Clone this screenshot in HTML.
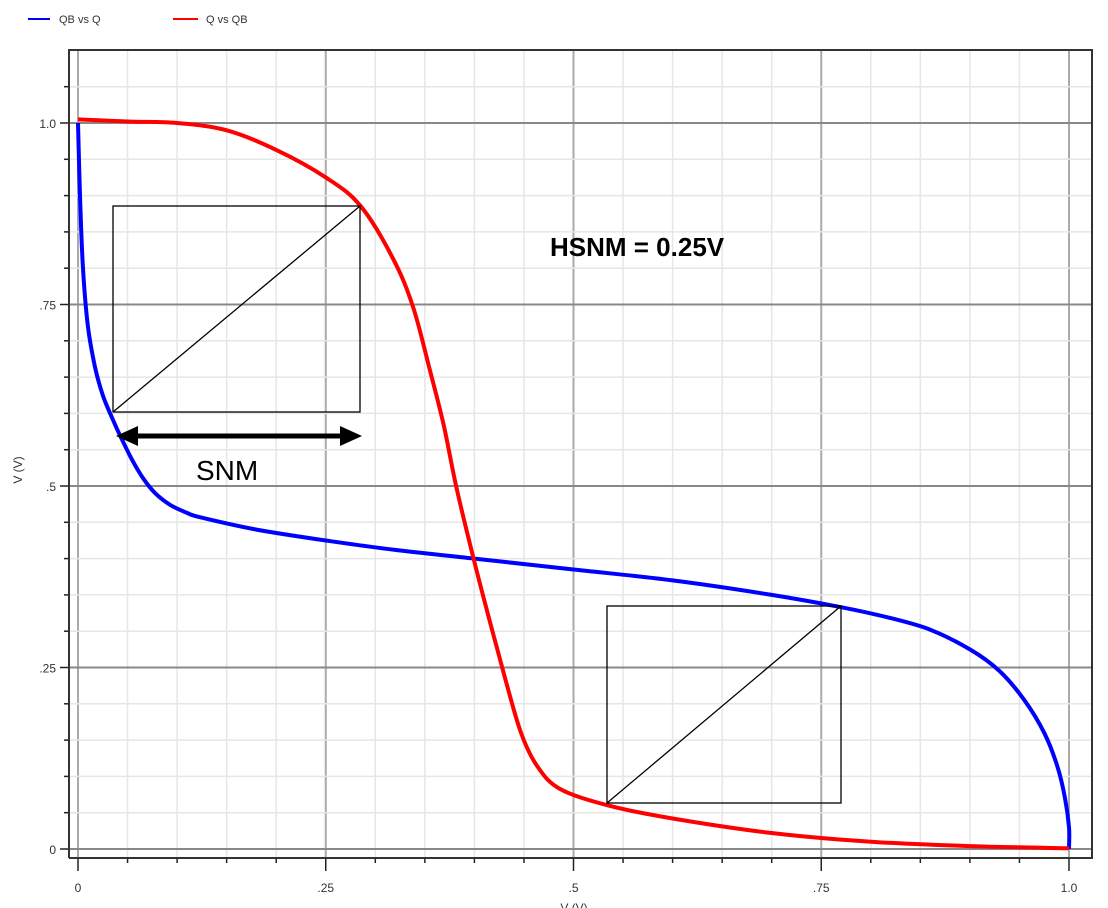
<!DOCTYPE html>
<html><head><meta charset="utf-8"><style>
body{margin:0;background:#fff;}
svg{display:block;font-family:"Liberation Sans",sans-serif;}
</style></head><body>
<svg id="chart" width="1108" height="908" xmlns="http://www.w3.org/2000/svg">
<g id="grid"></g>
<g id="axes"></g>
<g id="series"></g>
<g>
<line x1="28" y1="19" x2="50" y2="19" stroke="#0000ff" stroke-width="2"/>
<text x="59" y="23" font-size="11" fill="#333">QB vs Q</text>
<line x1="173" y1="19" x2="198" y2="19" stroke="#ff0000" stroke-width="2"/>
<text x="206" y="23" font-size="11" fill="#333">Q vs QB</text>
</g>
<text x="22" y="470" font-size="12" fill="#333" transform="rotate(-90 22 470)" text-anchor="middle">V (V)</text>
<text x="574" y="912" font-size="12" fill="#333" text-anchor="middle">V (V)</text>
<g>
<rect x="113" y="206" width="247" height="206" fill="none" stroke="#000" stroke-width="1.3"/>
<line x1="113" y1="412" x2="360" y2="206" stroke="#000" stroke-width="1.3"/>
<rect x="607" y="606" width="234" height="197" fill="none" stroke="#000" stroke-width="1.3"/>
<line x1="607" y1="803" x2="841" y2="606" stroke="#000" stroke-width="1.3"/>
<line x1="132" y1="436" x2="342" y2="436" stroke="#000" stroke-width="5"/>
<polygon points="116,436 138,426 138,446" fill="#000"/>
<polygon points="362,436 340,426 340,446" fill="#000"/>
<text x="196" y="480" font-size="28" fill="#000">SNM</text>
<text x="550" y="256" font-size="26" font-weight="bold" fill="#000">HSNM = 0.25V</text>
</g>
</svg>
<script>
const blueX=[0,0.002,0.005,0.01,0.017,0.025,0.034,0.044,0.055,0.066,0.078,0.093,0.11,0.123,0.18,0.25,0.32,0.4,0.5,0.6,0.7,0.77,0.82,0.86,0.9,0.93,0.955,0.975,0.988,0.996,1.0,1.0];
const blueY=[1.0,0.9,0.8,0.72,0.665,0.625,0.595,0.565,0.535,0.51,0.49,0.474,0.463,0.457,0.44,0.425,0.412,0.40,0.385,0.37,0.35,0.333,0.318,0.302,0.275,0.245,0.205,0.16,0.115,0.07,0.03,0];
const redX=[0,0.05,0.1,0.15,0.2,0.25,0.285,0.318,0.338,0.355,0.369,0.382,0.399,0.416,0.432,0.447,0.463,0.486,0.535,0.6,0.7,0.8,0.9,1.0];
const redY=[1.005,1.002,1.0,0.99,0.963,0.925,0.886,0.813,0.747,0.66,0.584,0.497,0.401,0.311,0.23,0.16,0.115,0.083,0.06,0.042,0.022,0.01,0.004,0.001];
const xTicks=[0,0.25,0.5,0.75,1.0];
const xTickLabels=["0",".25",".5",".75","1.0"];
const yTicks=[0,0.25,0.5,0.75,1.0];
const yTickLabels=["0",".25",".5",".75","1.0"];
const NS="http://www.w3.org/2000/svg";
const X0=78,X1=1069,Y0=849,Y1=123;
const sx=v=>X0+(X1-X0)*v, sy=v=>Y0-(Y0-Y1)*v;
function mk(t,a,p){const e=document.createElementNS(NS,t);for(const k in a)e.setAttribute(k,a[k]);p.appendChild(e);return e;}
const grid=document.getElementById('grid'),axes=document.getElementById('axes'),series=document.getElementById('series');
for(let i=0;i<=20;i++){const v=i*0.05;const major=i%5===0;
 const gx=sx(v);
 const l=mk('line',{x1:gx,y1:50,x2:gx,y2:858,stroke:major?'#aaa':'#e6e6e6','stroke-width':major?2:1.5},grid);
 
 const t=mk('line',{x1:gx,y1:858,x2:gx,y2:major?871:863,stroke:'#222','stroke-width':1.5},axes);
 
}
for(let i=-1;i<=21;i++){const v=i*0.05;const major=i%5===0;const gy=sy(v);
 if(gy>50&&gy<858){const l=mk('line',{x1:69,y1:gy,x2:1092,y2:gy,stroke:major?'#888':'#e6e6e6','stroke-width':major?2:1.5},grid);
 
 const t=mk('line',{x1:major?60:64,y1:gy,x2:69,y2:gy,stroke:'#222','stroke-width':1.5},axes);
 }
}
const fr=mk('polyline',{points:'69,858 69,50 1092,50 1092,858 69,858',fill:'none',stroke:'#333','stroke-width':2},axes);

xTicks.forEach((v,i)=>{const t=mk('text',{x:sx(v),y:892,'font-size':12,fill:'#333','text-anchor':'middle'},axes);t.textContent=xTickLabels[i];
 });
yTicks.forEach((v,i)=>{const t=mk('text',{x:56,y:sy(v)+5,'font-size':12,fill:'#333','text-anchor':'end'},axes);t.textContent=yTickLabels[i];
 });
function path(xs,ys){
 const p=xs.map((x,i)=>[sx(x),sy(ys[i])]);
 let d='M'+p[0][0].toFixed(1)+','+p[0][1].toFixed(1);
 for(let i=0;i<p.length-1;i++){
  const a=p[Math.max(0,i-1)],b=p[i],c=p[i+1],e=p[Math.min(p.length-1,i+2)];
  const c1=[b[0]+(c[0]-a[0])/6,b[1]+(c[1]-a[1])/6],c2=[c[0]-(e[0]-b[0])/6,c[1]-(e[1]-b[1])/6];
  d+=' C'+c1.map(v=>v.toFixed(1)).join(',')+' '+c2.map(v=>v.toFixed(1)).join(',')+' '+c.map(v=>v.toFixed(1)).join(',');
 }
 return d;
}
const b=mk('path',{d:path(blueX,blueY),fill:'none',stroke:'#0000ff','stroke-width':4,'stroke-linejoin':'round'},series);

const r=mk('path',{d:path(redX,redY),fill:'none',stroke:'#ff0000','stroke-width':4,'stroke-linejoin':'round'},series);

</script>
</body></html>
